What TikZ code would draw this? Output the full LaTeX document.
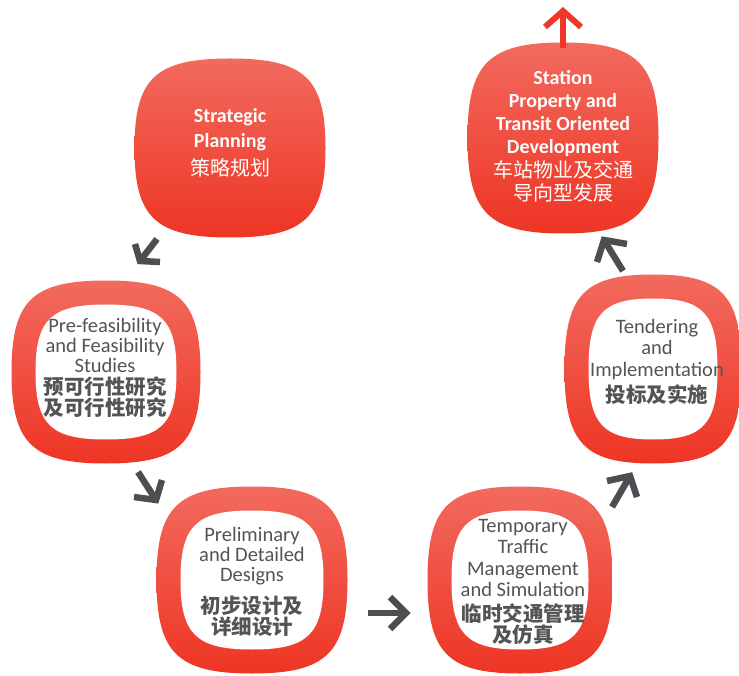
\documentclass[tikz,border=0pt]{standalone}
\usepackage{fontspec}
\setmainfont{Carlito}
\newfontfamily\cjk{Noto Sans CJK SC}
\definecolor{redtop}{HTML}{F26A5E}
\definecolor{redbot}{HTML}{EE3524}
\definecolor{arrgray}{HTML}{4D4E51}
\definecolor{txtgray}{HTML}{535456}
\definecolor{redarr}{HTML}{EE3728}
\newcommand{\sqpath}[2]{(#1,0) .. controls (#1,0.78*#2) and (0.78*#1,#2) .. (0,#2) .. controls (-0.78*#1,#2) and (-#1,0.78*#2) .. (-#1,0) .. controls (-#1,-0.78*#2) and (-0.78*#1,-#2) .. (0,-#2) .. controls (0.78*#1,-#2) and (#1,-0.78*#2) .. (#1,0) -- cycle}
\tikzset{
  redfill/.style={top color=redtop, bottom color=redbot, draw=none},
  whitetxt/.style={text=white, align=center, font={\fontsize{20}{23}\selectfont\bfseries}},
  graytxt/.style={text=txtgray, align=center, font={\fontsize{20.5}{20}\selectfont}},
  grayarrow/.style={draw=arrgray, line width=6.5pt, line cap=butt, line join=miter},
  redarrow/.style={draw=redarr, line width=6pt, line cap=butt, line join=miter}
}
\begin{document}
\begin{tikzpicture}[x=1pt,y=-1pt]
\useasboundingbox (0,0) rectangle (739,676);
% solid blobs
\begin{scope}[shift={(230,148)}]
  \shade[redfill] \sqpath{95.5}{89.5};
\end{scope}
\begin{scope}[shift={(563,138)}]
  \shade[redfill] \sqpath{95.5}{95.5};
\end{scope}
% rings
\begin{scope}[shift={(106,372)}]
  \shade[redfill] \sqpath{94.5}{91.5};
  \fill[white] \sqpath{70.5}{67.5};
\end{scope}
\begin{scope}[shift={(252,580)}]
  \shade[redfill] \sqpath{95.5}{93.5};
  \fill[white] \sqpath{71.5}{69.5};
\end{scope}
\begin{scope}[shift={(520,580)}]
  \shade[redfill] \sqpath{92.5}{93.5};
  \fill[white] \sqpath{68.5}{69.5};
\end{scope}
\begin{scope}[shift={(653,369)}]
  \shade[redfill] \sqpath{88.5}{94.5};
  \fill[white] \sqpath{64.5}{70.5};
\end{scope}
% texts
\node[whitetxt, font={\fontsize{20}{25}\selectfont\bfseries}] (sp) at (230,143) {Strategic\\Planning\\[3pt]{\cjk\mdseries 策略规划}};
\node[whitetxt] (st) at (563,136) {Station\\Property and\\Transit Oriented\\Development\\[1pt]{\cjk\mdseries 车站物业及交通}\\{\cjk\mdseries 导向型发展}};
\node[graytxt] (pf) at (105,368) {Pre-feasibility\\and Feasibility\\Studies\\[2pt]{\cjk\bfseries 预可行性研究}\\[1pt]{\cjk\bfseries 及可行性研究}};
\node[graytxt] (pd) at (252,582) {Preliminary\\and Detailed\\Designs\\[9pt]{\cjk\bfseries 初步设计及}\\[1pt]{\cjk\bfseries 详细设计}};
\node[graytxt, font={\fontsize{20.5}{21.5}\selectfont}] (tt) at (523,582) {Temporary\\Traffic\\Management\\and Simulation\\[3pt]{\cjk\bfseries 临时交通管理}\\{\cjk\bfseries 及仿真}};
\node[graytxt, font={\fontsize{20.5}{21.5}\selectfont}] (ti) at (657,362) {Tendering\\and\\Implementation\\[5pt]{\cjk\bfseries 投标及实施}};
% arrows
\coordinate (a1s) at (157,239); \coordinate (a1t) at (140,261);
\coordinate (a1l) at (135,244); \coordinate (a1r) at (160,262);
\draw[grayarrow] (a1s) -- (a1t);
\draw[grayarrow] (a1l) -- (a1t) -- (a1r);
\coordinate (a2s) at (138,472); \coordinate (a2t) at (156,500);
\coordinate (a2l) at (134,497); \coordinate (a2r) at (162,480);
\draw[grayarrow] (a2s) -- (a2t);
\draw[grayarrow] (a2l) -- (a2t) -- (a2r);
\coordinate (a3s) at (368,613); \coordinate (a3t) at (406,613);
\coordinate (a3l) at (390,597); \coordinate (a3r) at (390,629);
\draw[grayarrow] (a3s) -- (a3t);
\draw[grayarrow] (a3l) -- (a3t) -- (a3r);
\coordinate (a4s) at (612,507); \coordinate (a4t) at (630,476);
\coordinate (a4l) at (607,481); \coordinate (a4r) at (637,497);
\draw[grayarrow] (a4s) -- (a4t);
\draw[grayarrow] (a4l) -- (a4t) -- (a4r);
\coordinate (a5s) at (623,271); \coordinate (a5t) at (604,240);
\coordinate (a5l) at (597,262); \coordinate (a5r) at (627,244);
\draw[grayarrow] (a5s) -- (a5t);
\draw[grayarrow] (a5l) -- (a5t) -- (a5r);
\coordinate (ras) at (563,48); \coordinate (rat) at (563,11);
\coordinate (ral) at (545,27); \coordinate (rar) at (581,27);
\draw[redarrow] (ras) -- (rat);
\draw[redarrow] (ral) -- (rat) -- (rar);
\end{tikzpicture}
\end{document}
